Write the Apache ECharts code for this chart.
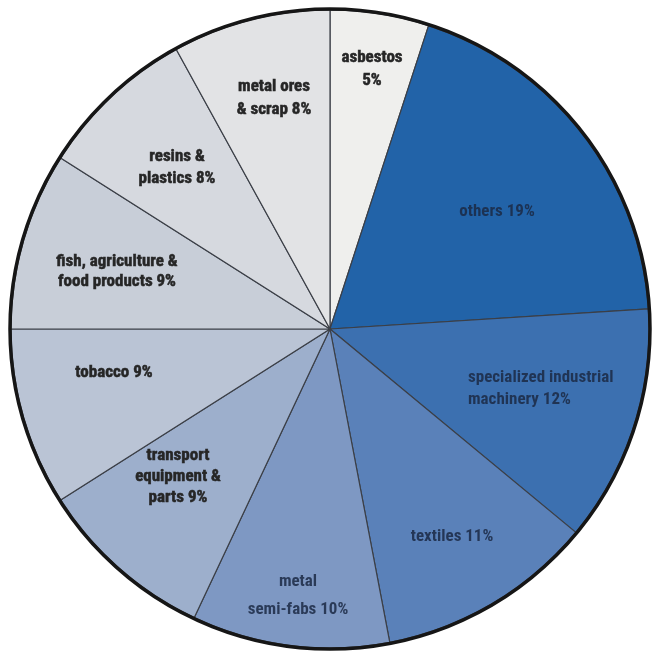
<!DOCTYPE html>
<html>
<head>
<meta charset="utf-8">
<script src="https://cdn.jsdelivr.net/npm/echarts@6/dist/echarts.min.js"></script>
<style>
  html, body { margin: 0; padding: 0; background: #ffffff; }
  #chart { width: 652px; height: 654px; }
</style>
</head>
<body>
<div id="chart"></div>
<script>
// Share of exports by product group, clockwise from 12 o'clock
const categories = [
  'asbestos',
  'others',
  'specialized industrial machinery',
  'textiles',
  'metal semi-fabs',
  'transport equipment & parts',
  'tobacco',
  'fish, agriculture & food products',
  'resins & plastics',
  'metal ores & scrap'
];
const shares = [5, 19, 12, 11, 10, 9, 9, 9, 8, 8];

// Printed label lines for each slice (value appended to the last line)
const labelLines = [
  ['asbestos', ''],
  ['others'],
  ['specialized industrial', 'machinery'],
  ['textiles'],
  ['metal', 'semi-fabs'],
  ['transport', 'equipment &', 'parts'],
  ['tobacco'],
  ['fish, agriculture &', 'food products'],
  ['resins &', 'plastics'],
  ['metal ores', '& scrap']
];

// Slice fills, light grey through to deep blue
const sliceColors = [
  '#efefed', '#2263a8', '#3c70b0', '#5a81b9', '#7e98c3',
  '#9dafcc', '#bac4d5', '#c8ced8', '#d6d9df', '#e2e3e5'
];
const darkSlice = [false, true, true, true, true, false, false, false, false, false];

// Label anchor points (px) and alignment within the drawing
const labelSpots = [
  { x: 372, y: 69, align: 'center', lh: 23 },
  { x: 497, y: 212, align: 'center', lh: 22 },
  { x: 468, y: 389, align: 'left', lh: 22 },
  { x: 452, y: 537, align: 'center', lh: 22 },
  { x: 298, y: 596, align: 'center', lh: 28 },
  { x: 178, y: 477, align: 'center', lh: 21 },
  { x: 114, y: 373, align: 'center', lh: 22 },
  { x: 117, y: 272, align: 'center', lh: 20 },
  { x: 177, y: 168, align: 'center', lh: 22 },
  { x: 274, y: 98, align: 'center', lh: 23 }
];

const FONT = '"Roboto Condensed", "Liberation Sans Narrow", "Open Sans Condensed", "DejaVu Sans Condensed", sans-serif';

// Pick a font size so the condensed bold face sets "fish, agriculture &" about 122px wide
function fitFontSize() {
  const ctx = document.createElement('canvas').getContext('2d');
  ctx.font = 'bold 20px ' + FONT;
  const w = ctx.measureText('fish, agriculture &').width;
  const size = 20 * 122 / w;
  return Math.max(12, Math.min(17, size));
}
const FONT_SIZE = fitFontSize();

function labelText(i) {
  const lines = labelLines[i].slice();
  const pct = shares[i] + '%';
  if (lines[lines.length - 1] === '') lines[lines.length - 1] = pct;
  else lines[lines.length - 1] = lines[lines.length - 1] + ' ' + pct;
  return lines.join('\n');
}

const data = categories.map((name, i) => {
  const ink = darkSlice[i] ? '#1b2944' : '#262626';
  return {
    name: name,
    value: shares[i],
    itemStyle: { color: sliceColors[i] },
    label: {
      formatter: labelText(i),
      color: ink,
      fontWeight: 'bold',
      textBorderColor: ink,
      textBorderWidth: darkSlice[i] ? 0 : 0.5,
      opacity: darkSlice[i] ? 0.85 : 1,
      lineHeight: labelSpots[i].lh,
      align: labelSpots[i].align
    }
  };
});

const chart = echarts.init(document.getElementById('chart'), null, { renderer: 'canvas' });
chart.setOption({
  backgroundColor: '#ffffff',
  animation: false,
  series: [
    {
      type: 'pie',
      center: [330, 329],
      radius: [0, 319],
      startAngle: 90,
      clockwise: true,
      avoidLabelOverlap: false,
      silent: true,
      itemStyle: { borderColor: '#3b3f47', borderWidth: 1.2 },
      label: {
        show: true,
        position: 'inside',
        fontFamily: FONT,
        fontSize: FONT_SIZE
      },
      labelLine: { show: false },
      labelLayout: function (p) {
        const s = labelSpots[p.dataIndex];
        return { x: s.x, y: s.y, align: s.align, verticalAlign: 'middle' };
      },
      data: data
    },
    {
      // outer rim
      type: 'pie',
      center: [330, 329],
      radius: [0, 320],
      silent: true,
      label: { show: false },
      labelLine: { show: false },
      itemStyle: { color: 'rgba(0,0,0,0)', borderColor: '#161616', borderWidth: 3.5 },
      data: [{ value: 1, name: 'rim' }]
    }
  ]
});
</script>
</body>
</html>
